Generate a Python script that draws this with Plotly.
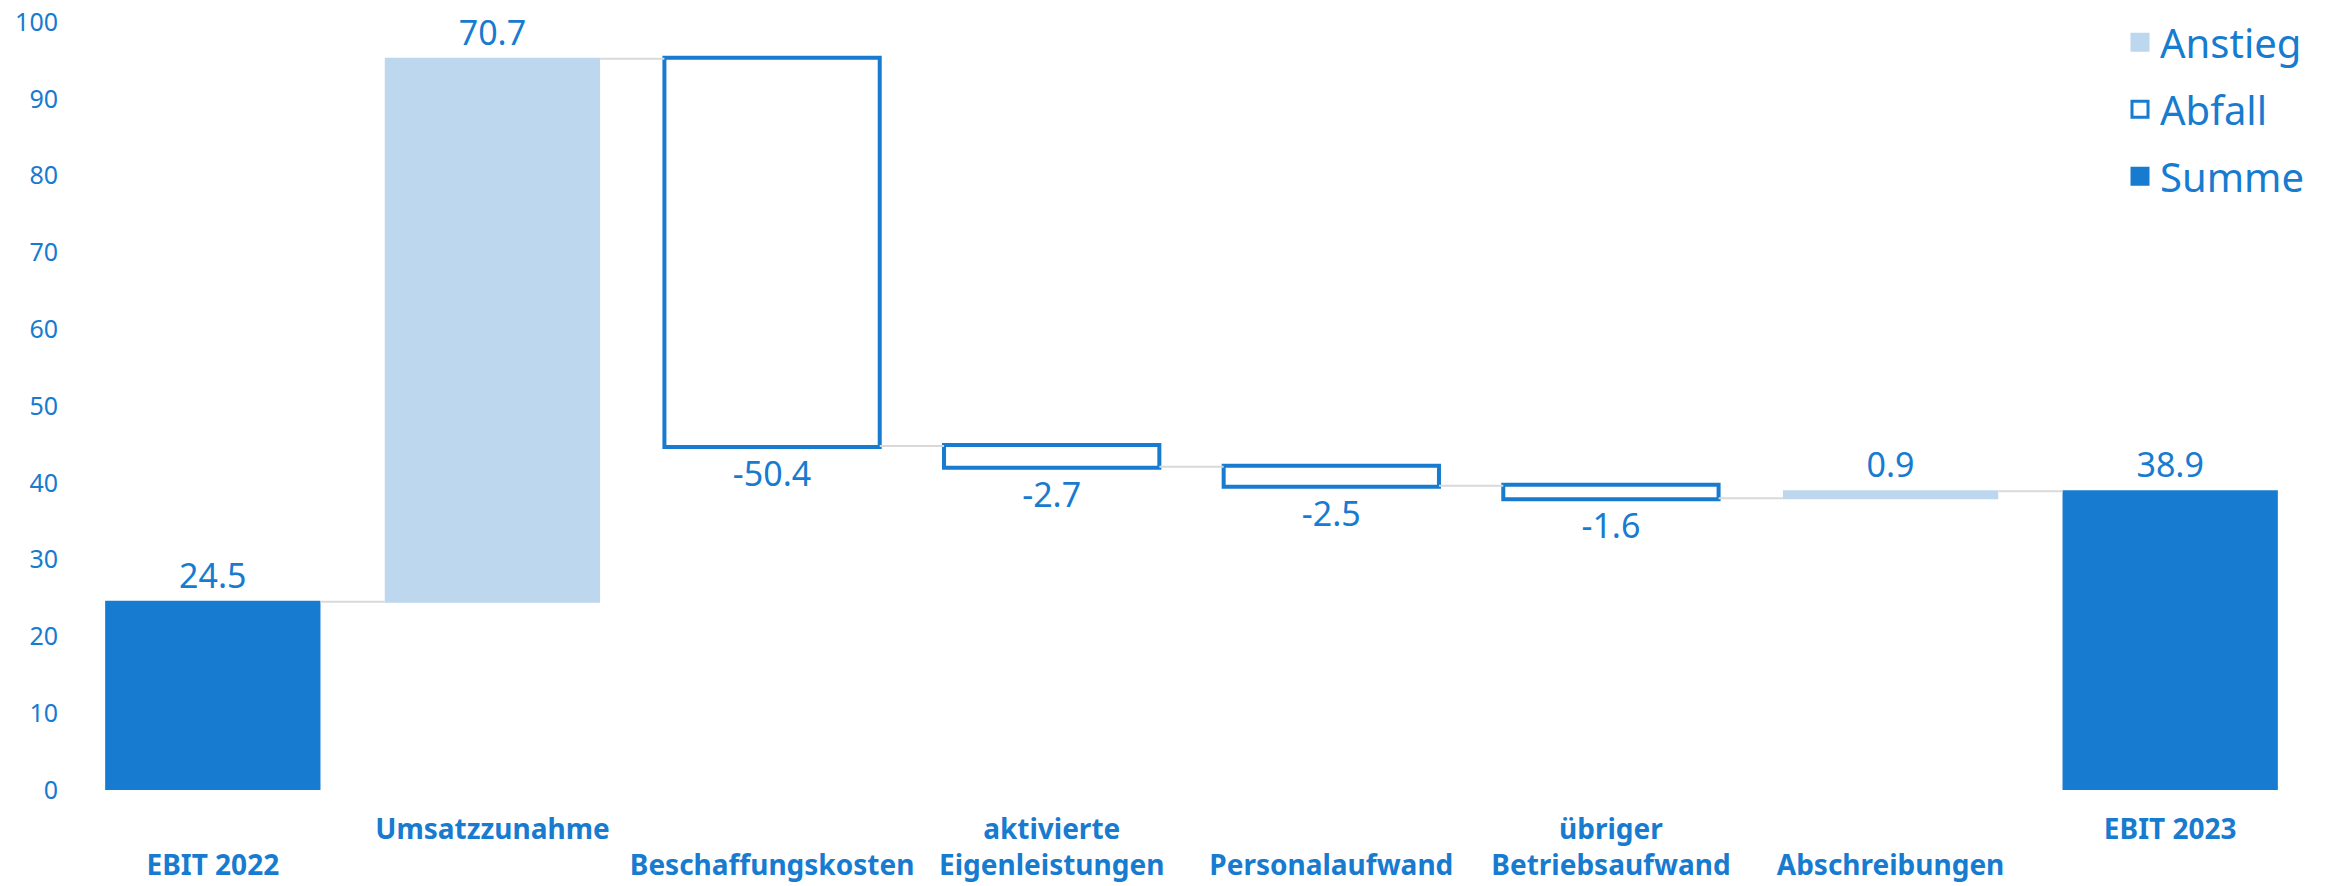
import plotly.graph_objects as go

categories = ["EBIT 2022", "Umsatzzunahme", "Beschaffungskosten", "aktivierte Eigenleistungen",
              "Personalaufwand", "übriger Betriebsaufwand", "Abschreibungen", "EBIT 2023"]
tick_labels = ["\u00a0<br>EBIT 2022", "Umsatzzunahme<br>\u00a0", "\u00a0<br>Beschaffungskosten",
               "aktivierte<br>Eigenleistungen", "\u00a0<br>Personalaufwand", "übriger<br>Betriebsaufwand",
               "\u00a0<br>Abschreibungen", "EBIT 2023<br>\u00a0"]
values = [24.5, 70.7, -50.4, -2.7, -2.5, -1.6, 0.9, 38.9]
measures = ["absolute", "relative", "relative", "relative", "relative", "relative", "relative", "total"]

BLUE = "#177BD0"
LIGHT = "#BDD7EE"
FONT = "Noto Sans"

fig = go.Figure()

fig.add_trace(
    go.Waterfall(
        x=categories,
        y=values,
        measure=measures,
        text=[f"{v:.1f}" for v in values],
        textposition="outside",
        textfont=dict(size=34, color=BLUE, family=FONT),
        cliponaxis=False,
        increasing=dict(marker=dict(color=LIGHT, line=dict(width=0))),
        decreasing=dict(marker=dict(color="white", line=dict(color=BLUE, width=4))),
        totals=dict(marker=dict(color=BLUE, line=dict(width=0))),
        connector=dict(line=dict(color="#D9D9D9", width=2)),
        showlegend=False,
        hoverinfo="skip",
    )
)

# legend entries only
legend_items = [("Anstieg", "square", LIGHT, LIGHT), ("Abfall", "square-open", BLUE, BLUE),
                ("Summe", "square", BLUE, BLUE)]
for name, sym, fill, edge in legend_items:
    fig.add_trace(
        go.Scatter(
            x=[None],
            y=[None],
            mode="markers",
            name=name,
            legendgroup=name,
            marker=dict(symbol=sym, size=20, color=fill, line=dict(color=edge, width=3)),
        )
    )

# page has an 8px body margin, so the figure is a bit smaller than the window
fig.update_layout(
    width=2312,
    height=878,
    plot_bgcolor="white",
    paper_bgcolor="white",
    margin=dict(l=65, r=10, t=14, b=96, autoexpand=False),
    waterfallgap=0.23,
    font=dict(family=FONT, color=BLUE),
    legend=dict(
        x=1, y=1.016, xanchor="right", yanchor="top",
        font=dict(size=40, color=BLUE, family=FONT),
        bgcolor="rgba(0,0,0,0)",
        tracegroupgap=12,
        itemwidth=30,
    ),
)

fig.update_xaxes(
    tickmode="array",
    tickvals=categories,
    ticktext=tick_labels,
    tickfont=dict(size=28, color=BLUE, family=FONT, weight="bold"),
    showgrid=False,
    showline=False,
    ticks="",
    ticklabelstandoff=20,
    ticklabeloverflow="allow",
    automargin=False,
)
fig.update_yaxes(
    range=[0, 100],
    dtick=10,
    tickfont=dict(size=25, color=BLUE, family=FONT),
    showgrid=False,
    zeroline=False,
    showline=False,
    ticklabelstandoff=14,
    ticklabeloverflow="allow",
    automargin=False,
)

fig.write_html("out.html")
